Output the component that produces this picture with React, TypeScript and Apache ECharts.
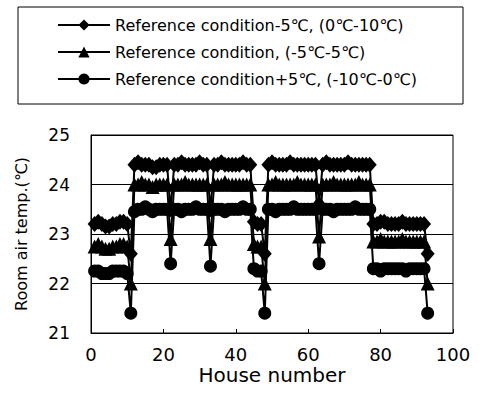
import React, { useEffect, useRef } from "react";
import * as echarts from "echarts";

const houses: number[] = [];
for (let i = 1; i <= 93; i++) houses.push(i);

const seriesNames = [
  "Reference condition-5℃, (0℃-10℃)",
  "Reference condition, (-5℃-5℃)",
  "Reference condition+5℃, (-10℃-0℃)",
];

// diamond: Reference condition -5℃
const diamondVals = [
  23.2, 23.25, 23.2, 23.15, 23.15, 23.2, 23.2, 23.25, 23.25, 23.2,
  22.6,
  24.4, 24.45, 24.4, 24.4, 24.4, 24.35, 24.35, 24.4, 24.4, 24.4,
  23.5,
  24.4, 24.4, 24.45, 24.4, 24.4, 24.4, 24.4, 24.45, 24.4, 24.4,
  23.5,
  24.4, 24.4, 24.45, 24.4, 24.4, 24.4, 24.4, 24.4, 24.45, 24.4, 24.4,
  23.25, 23.2, 23.2,
  22.6,
  24.4, 24.45, 24.4, 24.4, 24.4, 24.4, 24.45, 24.4, 24.4, 24.4, 24.4, 24.4, 24.4, 24.4,
  23.6,
  24.4, 24.45, 24.4, 24.4, 24.4, 24.4, 24.4, 24.45, 24.4, 24.4, 24.4, 24.4, 24.4, 24.4,
  23.2, 23.2, 23.25, 23.25, 23.2, 23.2, 23.2, 23.2, 23.25, 23.2, 23.2, 23.2, 23.2, 23.2, 23.2,
  22.6,
];

// triangle: Reference condition
const triangleVals = [
  22.75, 22.8, 22.75, 22.7, 22.7, 22.75, 22.75, 22.8, 22.8, 22.75,
  22.0,
  24.0, 24.0, 24.05, 24.0, 24.0, 23.95, 24.0, 24.0, 24.0, 24.0,
  22.9,
  24.0, 24.0, 24.0, 24.05, 24.0, 24.0, 24.0, 24.0, 24.0, 24.0,
  22.9,
  24.0, 24.0, 24.0, 24.05, 24.0, 24.0, 24.0, 24.0, 24.0, 24.0, 24.0,
  22.8, 22.75, 22.75,
  22.0,
  24.0, 24.0, 24.05, 24.0, 24.0, 24.0, 24.0, 24.0, 24.05, 24.0, 24.0, 24.0, 24.0, 24.0,
  22.95,
  24.0, 24.0, 24.0, 24.05, 24.0, 24.0, 24.0, 24.0, 24.0, 24.0, 24.05, 24.0, 24.0, 24.0,
  22.85, 22.85, 22.9, 22.85, 22.85, 22.85, 22.85, 22.85, 22.9, 22.85, 22.85, 22.85, 22.85, 22.85, 22.85,
  22.0,
];

// circle: Reference condition +5℃
const circleVals = [
  22.25, 22.25, 22.2, 22.2, 22.2, 22.25, 22.25, 22.25, 22.25, 22.2,
  21.4,
  23.45, 23.5, 23.5, 23.55, 23.5, 23.45, 23.5, 23.5, 23.5, 23.5,
  22.4,
  23.5, 23.5, 23.45, 23.5, 23.5, 23.5, 23.55, 23.5, 23.5, 23.5,
  22.35,
  23.5, 23.5, 23.5, 23.45, 23.5, 23.5, 23.5, 23.5, 23.55, 23.5, 23.5,
  22.3, 22.25, 22.25,
  21.4,
  23.5, 23.5, 23.45, 23.5, 23.5, 23.5, 23.5, 23.55, 23.5, 23.5, 23.5, 23.5, 23.5, 23.5,
  22.4,
  23.5, 23.5, 23.5, 23.45, 23.5, 23.5, 23.5, 23.5, 23.5, 23.55, 23.5, 23.5, 23.5, 23.5,
  22.3, 22.3, 22.25, 22.3, 22.3, 22.3, 22.3, 22.3, 22.3, 22.25, 22.3, 22.3, 22.3, 22.3, 22.3,
  21.4,
];

const xTicks = [0, 20, 40, 60, 80, 100];
const yTicks = [21, 22, 23, 24, 25];

const FONT = "DejaVu Sans";

export default function App() {
  const ref = useRef<HTMLDivElement>(null);
  useEffect(() => {
    if (!ref.current) return;
    const chart = echarts.init(ref.current, undefined, { renderer: "svg" });
    const mk = (vals: number[]) => houses.map((h, i) => [h, vals[i]]);
    const symbols = ["diamond", "triangle", "circle"];
    const sizes = [[14, 16], [14, 14], 13];
    const allVals = [diamondVals, triangleVals, circleVals];
    chart.setOption({
      animation: false,
      backgroundColor: "#fff",
      graphic: [
        {
          type: "rect",
          shape: { x: 18, y: 7, width: 445, height: 97 },
          style: { fill: "none", stroke: "#000", lineWidth: 1 },
        },
      ],
      legend: {
        orient: "vertical",
        left: 57,
        top: 17,
        padding: 0,
        itemWidth: 52,
        itemHeight: 14,
        itemGap: 11,
        textStyle: { fontFamily: FONT, fontSize: 16, color: "#000" },
        data: seriesNames,
      },
      grid: {
        left: 91,
        right: 26,
        top: 135,
        bottom: 70,
        show: true,
        borderColor: "#000",
        borderWidth: 1,
        backgroundColor: "transparent",
      },
      xAxis: {
        type: "value",
        min: xTicks[0],
        max: xTicks[xTicks.length - 1],
        interval: 20,
        name: "House number",
        nameLocation: "middle",
        nameGap: 32,
        nameTextStyle: { fontFamily: FONT, fontSize: 20, color: "#000" },
        axisLine: { lineStyle: { color: "#000", width: 1 } },
        axisTick: { show: true, inside: true, length: 4, lineStyle: { color: "#000" } },
        axisLabel: { fontFamily: FONT, fontSize: 18, color: "#000", margin: 12 },
        splitLine: { show: false },
      },
      yAxis: {
        type: "value",
        min: yTicks[0],
        max: yTicks[yTicks.length - 1],
        interval: 1,
        name: "Room air temp.(℃)",
        nameLocation: "middle",
        nameGap: 62,
        nameTextStyle: { fontFamily: FONT, fontSize: 16, color: "#000" },
        axisLine: { show: true, lineStyle: { color: "#000", width: 1 } },
        axisTick: { show: false },
        axisLabel: { fontFamily: FONT, fontSize: 17, color: "#000", margin: 21 },
        splitLine: { show: true, lineStyle: { color: "#000", width: 1 } },
      },
      series: seriesNames.map((name, k) => ({
        name,
        type: "line",
        data: mk(allVals[k]),
        symbol: symbols[k],
        symbolSize: sizes[k],
        showSymbol: true,
        color: "#000",
        itemStyle: { color: "#000" },
        lineStyle: { color: "#000", width: 2 },
        z: 3,
      })),
    });
    return () => chart.dispose();
  }, []);
  return (
    <div
      ref={ref}
      style={{ position: "fixed", left: 0, top: 0, width: 479, height: 403 }}
    />
  );
}
